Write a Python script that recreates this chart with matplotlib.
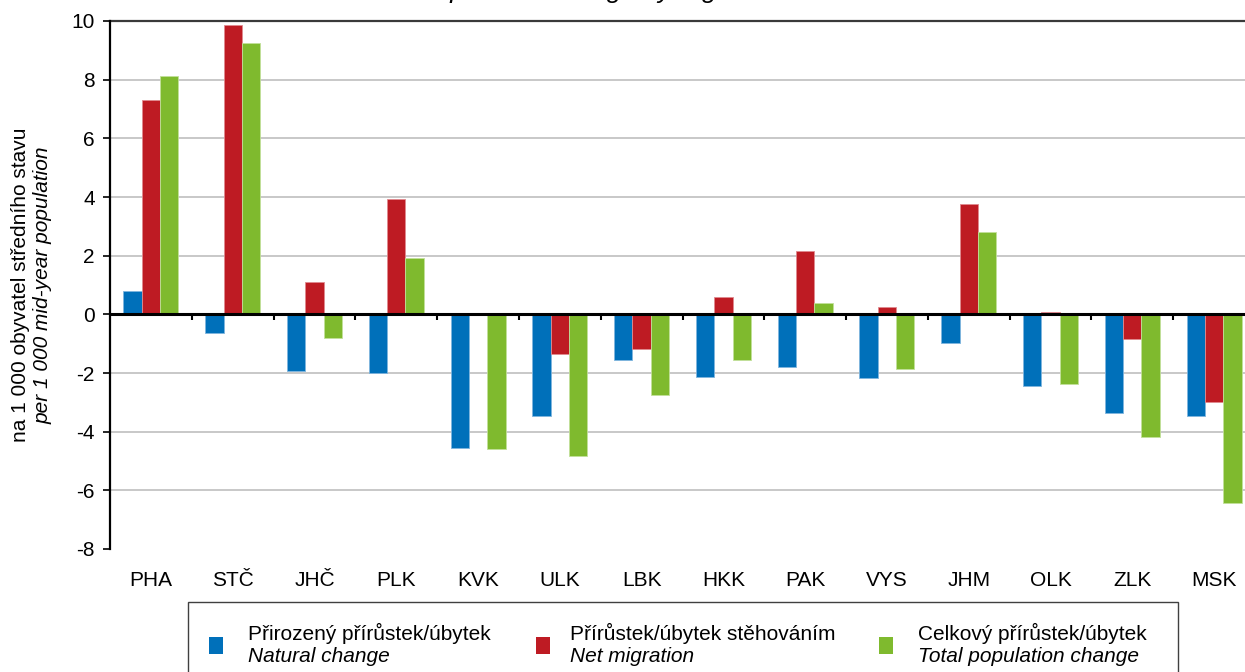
import matplotlib
matplotlib.use("Agg")
import matplotlib.pyplot as plt
from matplotlib.patches import Rectangle
import numpy as np

plt.rcParams['font.family'] = ['Liberation Sans', 'DejaVu Sans']

regions = ["PHA", "STČ", "JHČ", "PLK", "KVK", "ULK", "LBK", "HKK", "PAK", "VYS", "JHM", "OLK", "ZLK", "MSK"]
natural = [0.80, -0.63, -1.94, -2.00, -4.55, -3.47, -1.57, -2.12, -1.78, -2.16, -0.97, -2.44, -3.37, -3.46]
migration = [7.32, 9.88, 1.10, 3.94, 0.00, -1.35, -1.18, 0.59, 2.15, 0.26, 3.77, 0.08, -0.83, -2.98]
total = [8.14, 9.25, -0.81, 1.92, -4.60, -4.83, -2.75, -1.54, 0.37, -1.88, 2.79, -2.37, -4.19, -6.43]

series_cz = ["Přirozený přírůstek/úbytek", "Přírůstek/úbytek stěhováním", "Celkový přírůstek/úbytek"]
series_en = ["Natural change", "Net migration", "Total population change"]
colors = ["#0070BA", "#BE1B23", "#7FBA2E"]
edges = ["#7FB5DE", "#E08A8F", "#C2E09A"]
yticks = [-8, -6, -4, -2, 0, 2, 4, 6, 8, 10]

FS = 15
W, H = 1245, 672
fig = plt.figure(figsize=(W / 100, H / 100), dpi=100)
ax = fig.add_axes([110 / W, (H - 549) / H, 1145 / W, 528 / H])

x = np.arange(len(regions))
bw = 0.224
for i, vals in enumerate([natural, migration, total]):
    ax.bar(x + (i - 1) * bw, vals, width=bw, color=colors[i], edgecolor=edges[i],
           linewidth=0.6, zorder=3)

ax.set_xlim(-0.5, len(regions) - 0.5)
ax.set_ylim(-8, 10)
ax.set_yticks(yticks)
ax.set_yticklabels([str(v) for v in yticks], fontsize=FS)
ax.tick_params(axis='y', length=5, width=1.2, pad=6, color='black')
ax.set_xticks(x)
ax.set_xticklabels(regions, fontsize=FS)
ax.tick_params(axis='x', length=0, pad=16)

for v in yticks:
    if v not in (0, -8, 10):
        ax.axhline(v, color='#BFBFBF', lw=1.2, zorder=1)
ax.axhline(10, color='#3A3A3A', lw=1.6, zorder=1, clip_on=False)
ax.axhline(0, color='black', lw=2.2, zorder=4)
ax.vlines(x[:-1] + 0.5, -0.2, 0, color='black', lw=1.5, zorder=4)

for s in ['top', 'right', 'bottom']:
    ax.spines[s].set_visible(False)
ax.spines['left'].set_linewidth(1.6)
ax.spines['left'].set_zorder(5)

# Y-axis label (two lines, second italic)
fig.text(21 / W, 1 - 285 / H, "na 1 000 obyvatel středního stavu", rotation=90,
         ha='center', va='center', fontsize=FS)
fig.text(43 / W, 1 - 285 / H, "per 1 000 mid-year population", rotation=90,
         ha='center', va='center', fontsize=FS, style='italic')

# Title (mostly outside the top of the figure, as in the reference)
fig.text(585 / W, 1 + 2 / H, "Population change by region", ha='center', va='baseline',
         fontsize=19, style='italic')

# Legend box
fig.add_artist(Rectangle((188 / W, 1 - 690 / H), (1178 - 188) / W, (690 - 602) / H,
                         transform=fig.transFigure, facecolor='white', edgecolor='#404040',
                         lw=1.0))
sq_x = [209, 536, 879]
tx_x = [248, 570, 918]
for i in range(3):
    fig.add_artist(Rectangle((sq_x[i] / W, 1 - 654 / H), 14 / W, 17 / H,
                             transform=fig.transFigure, facecolor=colors[i], edgecolor='none'))
    fig.text(tx_x[i] / W, 1 - 633 / H, series_cz[i], ha='left', va='center', fontsize=FS)
    fig.text(tx_x[i] / W, 1 - 657 / H, series_en[i], ha='left', va='center', fontsize=FS,
             style='italic')

fig.savefig("out.png", dpi=100)
